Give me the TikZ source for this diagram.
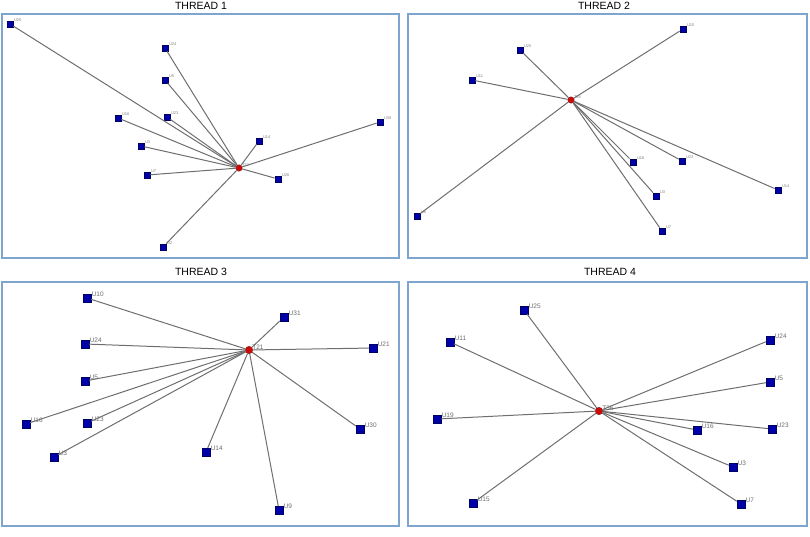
\documentclass[tikz,border=0pt]{standalone}
\usepackage{fontspec}
\setmainfont{Liberation Sans}
\usepackage{xcolor}

\definecolor{userblue}{RGB}{0,0,170}
\definecolor{threadred}{RGB}{205,10,10}
\definecolor{framblue}{RGB}{125,165,205}
\definecolor{linkgray}{RGB}{110,110,110}

\begin{document}
\begin{tikzpicture}[x=1pt,y=-1pt,
  user/.style={rectangle, draw=userblue!55!black, fill=userblue, minimum size=6.5pt, inner sep=0pt, line width=0.3pt},
  thread/.style={circle, draw=threadred!60!black, fill=threadred, minimum size=6.5pt, inner sep=0pt, line width=0.3pt},
  link/.style={draw=linkgray, line width=1pt},
  panel/.style={draw=framblue, line width=1.4pt},
  title/.style={font=\fontsize{10.5}{12}\selectfont},
  every label/.style={font=\fontsize{4}{4}\selectfont, text=gray, inner sep=0.4pt, label distance=0pt, yshift=-1.5pt}]
  \useasboundingbox (0,0) rectangle (810,536);

  % Frames and titles
  \draw[panel] (2,14) rectangle (399,258);
  \draw[panel] (408,14) rectangle (807,258);
  \draw[panel] (2,282) rectangle (399,526);
  \draw[panel] (408,282) rectangle (807,526);
  \node[title] (title1) at (201,6) {THREAD 1};
  \node[title] (title2) at (604,6) {THREAD 2};
  \node[title] (title3) at (201,272) {THREAD 3};
  \node[title] (title4) at (610,272) {THREAD 4};

  % Thread 1
  \node[thread, label={above right:T22}] (p1t22) at (239,168) {};
  \node[user, label={above right:U25}] (p1u25) at (10,24) {};
  \node[user, label={above right:U24}] (p1u24) at (165,48) {};
  \node[user, label={above right:U5}] (p1u5) at (165,80) {};
  \node[user, label={above right:U23}] (p1u23) at (167,117) {};
  \node[user, label={above right:U16}] (p1u16) at (118,118) {};
  \node[user, label={above right:U3}] (p1u3) at (141,146) {};
  \node[user, label={above right:U7}] (p1u7) at (147,175) {};
  \node[user, label={above right:U14}] (p1u14) at (259,141) {};
  \node[user, label={above right:U26}] (p1u26) at (278,179) {};
  \node[user, label={above right:U30}] (p1u30) at (380,122) {};
  \node[user, label={above right:U2}] (p1u2) at (163,247) {};
  \foreach \u in {u25,u24,u5,u23,u16,u3,u7,u14,u26,u30,u2}
    \draw[link] (p1t22) -- (p1\u);

  % Thread 2
  \node[thread, label={above right:T34}] (p2t34) at (571,100) {};
  \node[user, label={above right:U25}] (p2u25) at (520,50) {};
  \node[user, label={above right:U11}] (p2u11) at (472,80) {};
  \node[user, label={above right:U10}] (p2u10) at (683,29) {};
  \node[user, label={above right:U6}] (p2u6) at (417,216) {};
  \node[user, label={above right:U16}] (p2u16) at (633,162) {};
  \node[user, label={above right:U23}] (p2u23) at (682,161) {};
  \node[user, label={above right:U14}] (p2u14) at (778,190) {};
  \node[user, label={above right:U3}] (p2u3) at (656,196) {};
  \node[user, label={above right:U7}] (p2u7) at (662,231) {};
  \foreach \u in {u25,u11,u10,u6,u16,u23,u14,u3,u7}
    \draw[link] (p2t34) -- (p2\u);

  \begin{scope}[user/.append style={minimum size=8pt},
    thread/.append style={minimum size=7.5pt},
    every label/.style={font=\fontsize{6.5}{7}\selectfont, text=gray!85!black, inner sep=0.4pt, label distance=0pt, yshift=-3pt}]
  % Thread 3
  \node[thread, label={above right:T21}] (p3t21) at (249,350) {};
  \node[user, label={above right:U10}] (p3u10) at (87,298) {};
  \node[user, label={above right:U24}] (p3u24) at (85,344) {};
  \node[user, label={above right:U5}] (p3u5) at (85,381) {};
  \node[user, label={above right:U16}] (p3u16) at (26,424) {};
  \node[user, label={above right:U23}] (p3u23) at (87,423) {};
  \node[user, label={above right:U3}] (p3u3) at (54,457) {};
  \node[user, label={above right:U14}] (p3u14) at (206,452) {};
  \node[user, label={above right:U9}] (p3u9) at (279,510) {};
  \node[user, label={above right:U31}] (p3u31) at (284,317) {};
  \node[user, label={above right:U21}] (p3u21) at (373,348) {};
  \node[user, label={above right:U30}] (p3u30) at (360,429) {};
  \foreach \u in {u10,u24,u5,u16,u23,u3,u14,u9,u31,u21,u30}
    \draw[link] (p3t21) -- (p3\u);

  % Thread 4
  \node[thread, label={above right:T36}] (p4t36) at (599,411) {};
  \node[user, label={above right:U25}] (p4u25) at (524,310) {};
  \node[user, label={above right:U11}] (p4u11) at (450,342) {};
  \node[user, label={above right:U19}] (p4u19) at (437,419) {};
  \node[user, label={above right:U15}] (p4u15) at (473,503) {};
  \node[user, label={above right:U24}] (p4u24) at (770,340) {};
  \node[user, label={above right:U5}] (p4u5) at (770,382) {};
  \node[user, label={above right:U16}] (p4u16) at (697,430) {};
  \node[user, label={above right:U23}] (p4u23) at (772,429) {};
  \node[user, label={above right:U3}] (p4u3) at (733,467) {};
  \node[user, label={above right:U7}] (p4u7) at (741,504) {};
  \foreach \u in {u25,u11,u19,u15,u24,u5,u16,u23,u3,u7}
    \draw[link] (p4t36) -- (p4\u);
  \end{scope}
\end{tikzpicture}
\end{document}
